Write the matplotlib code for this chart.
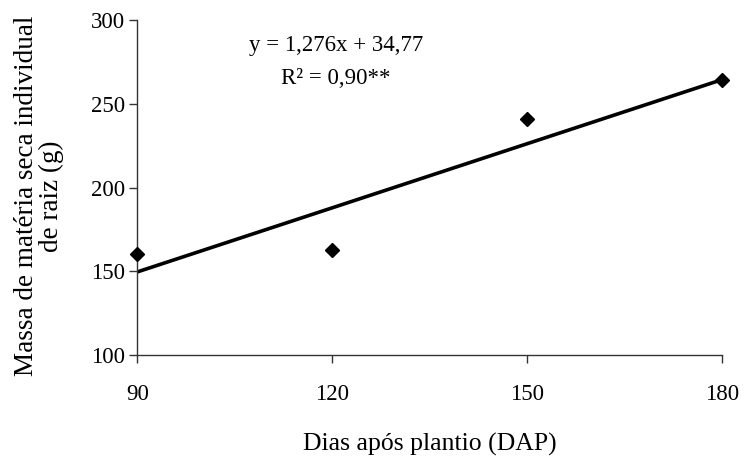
import matplotlib.pyplot as plt
import numpy as np

plt.rcParams['font.family'] = ['Liberation Serif', 'DejaVu Serif']

# data
dap = [90, 120, 150, 180]
massa = [160.5, 162.5, 240.7, 264.0]
coef_a = 1.276
coef_b = 34.77
xticks = [90, 120, 150, 180]
yticks = [100, 150, 200, 250, 300]

fig = plt.figure(figsize=(7.44, 4.57), dpi=100)
ax = fig.add_axes([0.1846, 0.2232, 0.7862, 0.733])

# regression line
xl = np.array([dap[0], dap[-1]])
ax.plot(xl, coef_a * xl + coef_b, color='black', lw=2.6, solid_capstyle='butt', zorder=2)

# points
ax.plot(dap, massa, 'D', color='black', markersize=7.5, zorder=3, clip_on=False)

ax.set_xlim(90, 180)
ax.set_ylim(100, 300)
ax.set_xticks(xticks)
ax.set_yticks(yticks)

for s in ['top', 'right']:
    ax.spines[s].set_visible(False)
for s in ['left', 'bottom']:
    ax.spines[s].set_color('#333333')
    ax.spines[s].set_linewidth(1.0)

ax.tick_params(axis='x', direction='out', length=6, width=1, color='#333333', pad=15, labelsize=16.5)
ax.tick_params(axis='y', direction='out', length=6, width=1, color='#333333', pad=3, labelsize=16.5)

ax.text(0.34, 0.925, 'y = 1,276x + 34,77', transform=ax.transAxes, ha='center', va='center', fontsize=16.5)
ax.text(0.34, 0.825, 'R² = 0,90**', transform=ax.transAxes, ha='center', va='center', fontsize=16.5)

ax.set_xlabel('Dias após plantio (DAP)', fontsize=18.5, labelpad=20)
ax.set_ylabel('Massa de matéria seca individual\nde raiz (g)', fontsize=19.5, labelpad=19, linespacing=1.0)
ax.yaxis.label.set_y(0.475)

fig.savefig('out.png', dpi=100)
